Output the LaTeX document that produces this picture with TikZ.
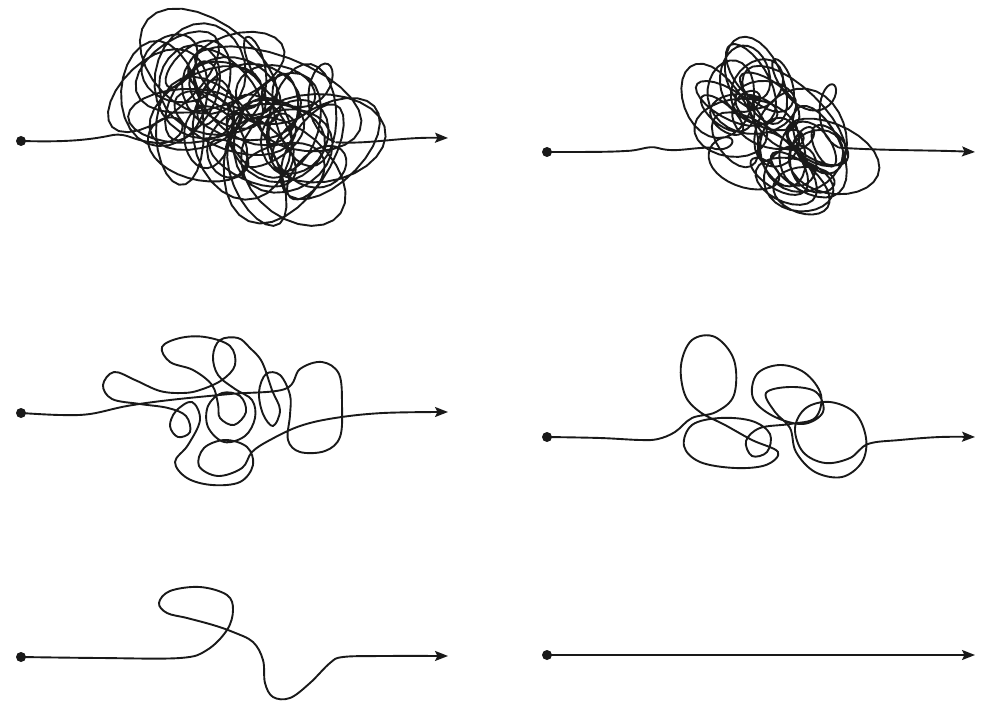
\documentclass[tikz,border=0pt]{standalone}
\usetikzlibrary{arrows.meta,calc}
\newcommand\tgR[1]{(\tgrr*(0.85+0.3*sin(\tgfp*(#1)+270)))}
\newcommand\tgA[1]{(\tgR{#1}*(1+0.3*sin(\tgfe*(#1))))}
\newcommand\tgB[1]{(\tgR{#1}*(1-0.3*sin(\tgfe*(#1))))}
\newcommand\tgX[1]{\tgcx - \tgsx*(0.55*cos(\tgfa*(#1)) + 0.25*cos(\tgfb*(#1)))
  + \tgA{#1}*cos(90-360*(#1))*cos(\tgft*(#1)) - \tgB{#1}*sin(90-360*(#1))*sin(\tgft*(#1))}
\newcommand\tgY[1]{\tgcy + \tgsy*(0.55*sin(\tgfc*(#1)) + 0.25*sin(\tgfd*(#1)))
  + \tgA{#1}*cos(90-360*(#1))*sin(\tgft*(#1)) + \tgB{#1}*sin(90-360*(#1))*cos(\tgft*(#1))}
\tikzset{
  rope/.style={line width=1.9pt, line cap=round, line join=round, black!90},
  tipped/.style={-{Stealth[length=13pt,width=10pt,inset=2.5pt]}},
  startdot/.style={circle, fill=black!90, inner sep=0pt, minimum size=10pt},
}
\begin{document}
\begin{tikzpicture}[x=1pt,y=-1pt]
\useasboundingbox[fill=white] (0,0) rectangle (990,703);

% ---------- panel 1 ----------
\node[startdot] (d1) at (21,141) {};
\coordinate (a1) at (448,138);
\def\tgcx{244}\def\tgcy{117}\def\tgsx{115}\def\tgsy{75}\def\tgrr{46}
\def\tgfa{36}\def\tgfb{92}\def\tgfc{32}\def\tgfd{80}\def\tgft{16}\def\tgfp{24}\def\tgfe{40}\def\tgT{45}
\pgfmathsetmacro\tgbx{\tgX{0}}\pgfmathsetmacro\tgby{\tgY{0}}
\pgfmathsetmacro\tgex{\tgX{\tgT}}\pgfmathsetmacro\tgey{\tgY{\tgT}}
\coordinate (s1) at (\tgbx,\tgby);
\coordinate (e1) at (\tgex,\tgey);
\draw[rope] (d1.center) .. controls (60,142) and (85,141) .. (113,135)
  .. controls (128,133) and ($(s1)+(-20,-2)$) .. (s1);
\draw[rope] plot[domain=0:\tgT, samples=1081] ({\tgX{\x}},{\tgY{\x}});
\draw[rope,tipped] (e1) .. controls ($(e1)+(35,2)$) and (400,137) .. (a1);

% ---------- panel 2 ----------
\node[startdot] (d2) at (547,152) {};
\coordinate (a2) at (975,152);
\def\tgcx{775}\def\tgcy{130}\def\tgsx{80}\def\tgsy{78}\def\tgrr{32}
\def\tgfa{35}\def\tgfb{95}\def\tgfc{30}\def\tgfd{80}\def\tgft{20}\def\tgfp{30}\def\tgfe{40}\def\tgT{36}
\pgfmathsetmacro\tgbx{\tgX{0}}\pgfmathsetmacro\tgby{\tgY{0}}
\pgfmathsetmacro\tgex{\tgX{\tgT}}\pgfmathsetmacro\tgey{\tgY{\tgT}}
\coordinate (s2) at (\tgbx,\tgby);
\coordinate (e2) at (\tgex,\tgey);
\draw[rope] (d2.center) .. controls (590,152) and (610,152) .. (625,151)
  .. controls (640,151) and (648,145) .. (658,148)
  .. controls (675,153) and ($(s2)+(-22,0)$) .. (s2);
\draw[rope] plot[domain=0:\tgT, samples=865] ({\tgX{\x}},{\tgY{\x}});
\draw[rope,tipped] (e2) .. controls ($(e2)+(40,3)$) and (930,150) .. (a2);

% ---------- panel 3 ----------
\node[startdot] (d3) at (21,413) {};
\coordinate (a3) at (448,412);
\draw[rope,tipped] plot[smooth, tension=0.6] coordinates {(d3.center) (60,415) (90,414) (127,406) (170,400) (230,394) (285,389)
 (300,369) (322,362) (339,374) (342,405) (340,437) (325,451) (300,452) (288,440) (290,415) (290,395) (280,375)
 (266,374) (259,392) (263,414) (273,426) (280,410) (272,390)
 (262,362) (250,348) (238,338) (220,340) (213,356) (218,375) (235,389) (252,400) (255,418) (245,436) (224,442)
 (208,427) (208,406) (222,393) (240,396) (246,412) (234,425) (220,418) (218,404) (212,385) (193,370) (170,362)
 (162,347) (180,338) (205,337) (230,346) (235,365) (222,380) (200,390) (183,393) (160,391) (135,380) (114,372)
 (103,385) (112,399) (140,404) (168,408) (186,416) (190,432) (178,437) (170,426) (176,411) (192,402) (200,420)
 (188,445) (175,462) (187,478) (212,485) (240,482) (253,465) (247,447) (225,440) (204,448) (199,466) (218,476)
 (242,468) (252,452) (270,440) (300,426) (335,418) (383,413) (a3)};

% ---------- panel 4 ----------
\node[startdot] (d4) at (547,437) {};
\coordinate (a4) at (975,437);
\draw[rope,tipped] plot[smooth, tension=0.6] coordinates {(d4.center) (600,438) (640,440) (658,439) (675,432) (692,418)
 (716,412) (734,395) (734,360) (715,337) (692,340) (681,365) (685,395) (700,412) (725,425) (752,440) (778,452)
 (766,465) (735,468) (700,462) (684,446) (692,425) (720,418) (752,421) (770,434) (767,452) (752,456) (746,441)
 (760,428) (790,424) (815,418) (821,395) (805,373) (780,365) (757,374) (753,398) (773,416) (803,424) (823,412)
 (816,392) (790,387) (766,393) (775,412) (790,428) (796,452) (815,472) (842,477) (862,462) (866,438) (855,413)
 (830,402) (806,408) (795,428) (803,452) (825,463) (850,458) (868,444) (900,440) (940,437) (a4)};

% ---------- panel 5 ----------
\node[startdot] (d5) at (21,657) {};
\coordinate (a5) at (448,656);
\draw[rope,tipped] plot[smooth, tension=0.6] coordinates {(d5.center) (100,658) (180,658) (207,650) (227,630) (233,610)
 (227,595) (200,587) (170,591) (159,603) (167,613) (187,618) (213,625) (233,632) (253,642) (263,660) (265,683)
 (273,697) (290,698) (310,683) (330,663) (343,657) (383,656) (a5)};

% ---------- panel 6 ----------
\node[startdot] (d6) at (547,655) {};
\coordinate (a6) at (975,655);
\draw[rope,tipped] (d6.center) -- (a6);
\end{tikzpicture}
\end{document}
